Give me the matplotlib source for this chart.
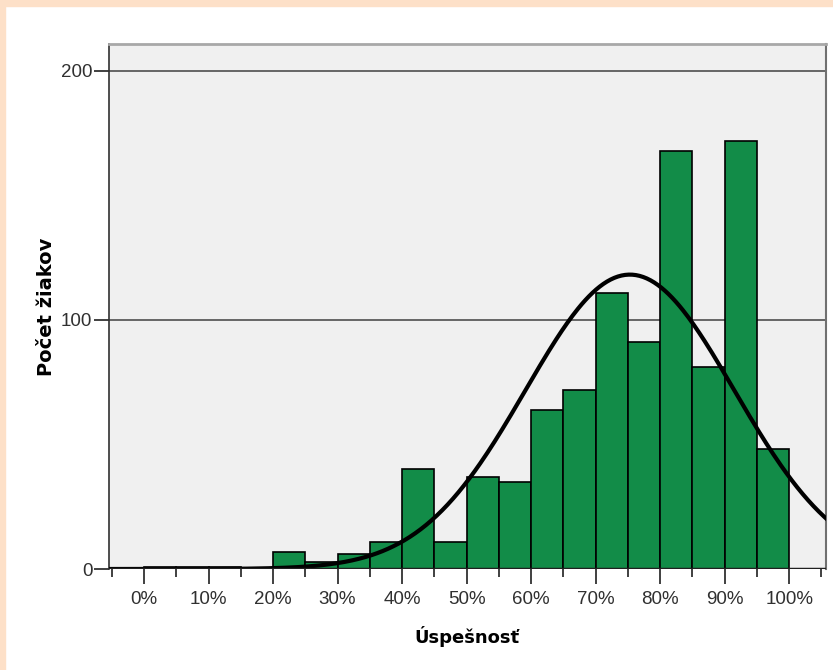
import numpy as np
import matplotlib.pyplot as plt
from matplotlib.patches import Rectangle

# histogram bins (percent) and counts
bin_left = [0, 5, 10, 15, 20, 25, 30, 35, 40, 45, 50, 55, 60, 65, 70, 75, 80, 85, 90, 95]
counts = [1, 1, 1, 0, 7, 3, 6, 11, 40, 11, 37, 35, 64, 72, 111, 91, 168, 81, 172, 48]
bin_width = 5
# normal curve parameters
curve_mean = 75.3
curve_sd = 16.2
x_ticks = [0, 10, 20, 30, 40, 50, 60, 70, 80, 90, 100]
x_labels = ['0%', '10%', '20%', '30%', '40%', '50%', '60%', '70%', '80%', '90%', '100%']
y_ticks = [0, 100, 200]

fig = plt.figure(figsize=(8.33, 6.70), dpi=100)
fig.patch.set_facecolor('white')
# peach frame strips
fig.patches.append(Rectangle((0, 0), 5/833, 1, transform=fig.transFigure, color='#FDE0C8', zorder=0))
fig.patches.append(Rectangle((0, 1-6/670), 1, 6/670, transform=fig.transFigure, color='#FDE0C8', zorder=0))

ax = fig.add_axes([109/833, 101/670, 717/833, 525/670])
ax.set_facecolor('#F0F0F0')

ax.bar(bin_left, counts, width=bin_width, align='edge', color='#128C48',
       edgecolor='black', linewidth=1.2, zorder=3)

n = sum(counts)
xs = np.linspace(-6, 106, 400)
ys = n * bin_width / (curve_sd * np.sqrt(2*np.pi)) * np.exp(-(xs-curve_mean)**2 / (2*curve_sd**2))
ax.plot(xs, ys, color='black', linewidth=3, zorder=4, solid_capstyle='round')

ax.set_xlim(-5.43, 105.7)
ax.set_ylim(0, 210.8)
for yv in [100, 200]:
    ax.axhline(yv, color='#404040', linewidth=1.1, zorder=1)
ax.axhline(0, color='#202020', linewidth=2.5, zorder=5)

tick_font = dict(family='Liberation Sans', fontsize=13.5, color='#303030')
ax.set_xticks(x_ticks)
ax.set_xticklabels(x_labels, **tick_font)
ax.set_xticks([-5, 5, 15, 25, 35, 45, 55, 65, 75, 85, 95, 105], minor=True)
ax.set_yticks(y_ticks)
ax.set_yticklabels([str(v) for v in y_ticks], **tick_font)
ax.tick_params(axis='x', which='major', direction='out', length=11, width=1.2, color='#202020', pad=5)
ax.tick_params(axis='x', which='minor', direction='out', length=6, width=1.2, color='#202020')
ax.tick_params(axis='y', direction='out', length=11, width=1.2, color='#202020', pad=1)

ax.spines['left'].set_color('#303030')
ax.spines['left'].set_linewidth(1.2)
ax.spines['right'].set_color('#707070')
ax.spines['right'].set_linewidth(1.5)
ax.spines['top'].set_color('#A8A8A8')
ax.spines['top'].set_linewidth(2)
ax.spines['bottom'].set_visible(False)

ax.set_xlabel('Úspešnosť', fontsize=13, fontweight='bold')
ax.xaxis.set_label_coords((467-109)/717, -(626-569)/525)
ax.set_ylabel('Počet žiakov', fontsize=14, fontweight='bold')
ax.yaxis.set_label_coords((56-109)/717, (569-307)/525)

fig.savefig('out.png', dpi=100)
